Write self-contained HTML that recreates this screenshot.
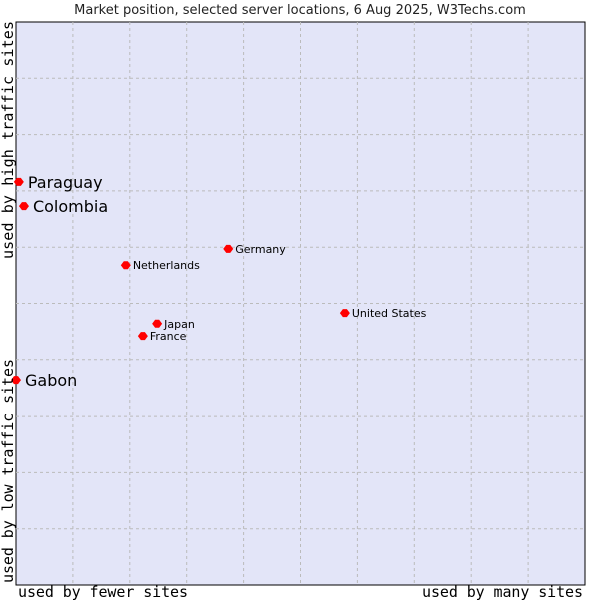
<!DOCTYPE html>
<html><head><meta charset="utf-8"><style>
body{margin:0;background:#fff;width:600px;height:600px;overflow:hidden}
svg{display:block}
</style></head><body>
<svg id="c" width="600" height="600" xmlns="http://www.w3.org/2000/svg">
<text x="300" y="14" text-anchor="middle" font-family="DejaVu Sans, sans-serif" font-size="13" fill="#222">Market position, selected server locations, 6 Aug 2025, W3Techs.com</text>
<rect x="16" y="22" width="569" height="563" fill="#e3e5f8" stroke="#000" stroke-width="1"/>
<g id="grid"></g>
<g id="pts"></g>
<text x="18" y="597" textLength="170" font-family="DejaVu Sans Mono, monospace" font-size="15" fill="#000">used by fewer sites</text>
<text x="422" y="597" textLength="161" font-family="DejaVu Sans Mono, monospace" font-size="15" fill="#000">used by many sites</text>
<text transform="translate(13,583) rotate(-90)" textLength="224" font-family="DejaVu Sans Mono, monospace" font-size="15" fill="#000">used by low traffic sites</text>
<text transform="translate(13,259) rotate(-90)" textLength="238" font-family="DejaVu Sans Mono, monospace" font-size="15" fill="#000">used by high traffic sites</text>
</svg>
<script>
const names=["Paraguay","Colombia","Gabon","Netherlands","Germany","United States","Japan","France"];
const xVals=[0.5,1.4,0,19.3,37.3,57.8,24.8,22.3];
const yVals=[71.6,67.3,36.4,56.8,59.7,48.3,46.4,44.2];
const big=[true,true,true,false,false,false,false,false];
const L=16,T=22,W=569,H=563;
const sx=v=>L+v/100*W, sy=v=>T+H-v/100*H;
const NS="http://www.w3.org/2000/svg";
const g=document.getElementById('grid');
for(let i=1;i<10;i++){
  const l=document.createElementNS(NS,'line');
  l.setAttribute('x1',sx(i*10));l.setAttribute('x2',sx(i*10));l.setAttribute('y1',T);l.setAttribute('y2',T+H);
  l.setAttribute('stroke','#bbb');l.setAttribute('stroke-dasharray','3,3');
  
  
  g.appendChild(l);
  const m=document.createElementNS(NS,'line');
  m.setAttribute('y1',sy(i*10));m.setAttribute('y2',sy(i*10));m.setAttribute('x1',L);m.setAttribute('x2',L+W);
  m.setAttribute('stroke','#bbb');m.setAttribute('stroke-dasharray','3,3');
  
  
  g.appendChild(m);
}
const p=document.getElementById('pts');
names.forEach((n,i)=>{
  const x=sx(xVals[i]),y=sy(yVals[i]);
  const d=document.createElementNS(NS,'path');
  d.setAttribute('d',`M${x-5},${y}L${x-2},${y-4}L${x+2},${y-4}L${x+5},${y}L${x+2},${y+4}L${x-2},${y+4}Z`);
  d.setAttribute('fill','#f00');
  
  
  p.appendChild(d);
  const t=document.createElementNS(NS,'text');
  t.setAttribute('x',x+(big[i]?9:7));t.setAttribute('y',y+(big[i]?6:4));
  t.setAttribute('font-family','DejaVu Sans, sans-serif');
  t.setAttribute('font-size',big[i]?16:11);
  t.setAttribute('fill','#000');
  t.textContent=n;
  
  
  p.appendChild(t);
});
</script>
</body></html>
